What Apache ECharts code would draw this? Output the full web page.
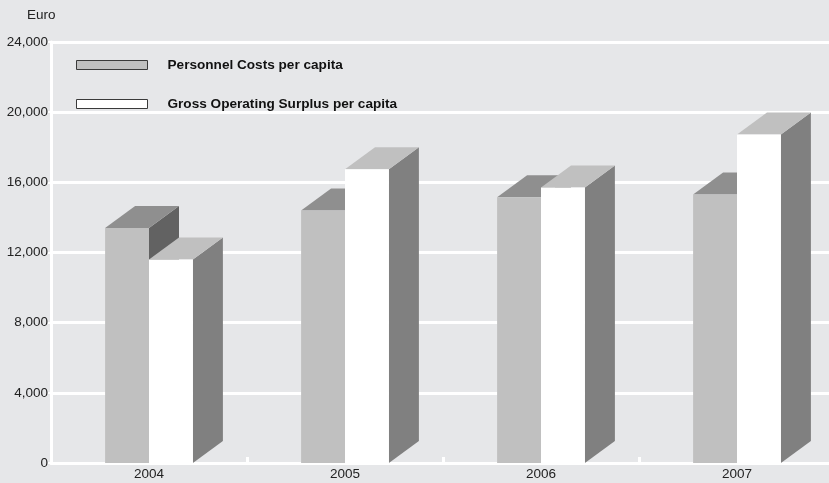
<!DOCTYPE html>
<html>
<head>
<meta charset="utf-8">
<script src="https://cdn.jsdelivr.net/npm/echarts@6/dist/echarts.min.js"></script>
<style>
  html, body { margin: 0; padding: 0; background: #e6e7e9; overflow: hidden; }
  #chart { width: 838px; height: 483px; }
</style>
</head>
<body>
<div id="chart"></div>
<script>
// Years on the x axis
const years = ['2004', '2005', '2006', '2007'];
// Euro per capita
const personnelCosts = [13400, 14400, 15150, 15300];
const grossOperatingSurplus = [11600, 16750, 15700, 18730];
// Y axis scale
const yMin = 0;
const yMax = 24000;
const yStep = 4000;

const seriesNames = ['Personnel Costs per capita', 'Gross Operating Surplus per capita'];
const FONT = 'Liberation Sans, Arial, Helvetica, sans-serif';

// 3D box: front face, top face, right side face
const DEPTH_X = 30;
const DEPTH_Y = -22;

function makeBoxRenderer(offsetSign, colors) {
  return function (params, api) {
    const catIdx = api.value(0);
    const val = api.value(1);
    const top = api.coord([catIdx, val]);
    const base = api.coord([catIdx, 0]);
    const catW = api.size([1, 0])[0];
    const w = catW * 0.224;
    const x0 = offsetSign < 0 ? top[0] - w : top[0];
    const x1 = x0 + w;
    const yT = top[1];
    const yB = base[1];
    return {
      type: 'group',
      children: [
        {
          type: 'polygon',
          shape: { points: [[x1, yT], [x1 + DEPTH_X, yT + DEPTH_Y], [x1 + DEPTH_X, yB + DEPTH_Y], [x1, yB]] },
          style: { fill: colors.side }
        },
        {
          type: 'polygon',
          shape: { points: [[x0, yT], [x1, yT], [x1 + DEPTH_X, yT + DEPTH_Y], [x0 + DEPTH_X, yT + DEPTH_Y]] },
          style: { fill: colors.top }
        },
        {
          type: 'rect',
          shape: { x: x0, y: yT, width: w, height: yB - yT },
          style: { fill: colors.front }
        }
      ]
    };
  };
}

const chart = echarts.init(document.getElementById('chart'), null, { renderer: 'canvas' });

chart.setOption({
  backgroundColor: '#e6e7e9',
  animation: false,
  title: {
    text: 'Euro',
    left: 22,
    top: 3,
    textStyle: { fontFamily: FONT, fontSize: 13.5, fontWeight: 'normal', color: '#222' }
  },
  legend: {
    orient: 'vertical',
    left: 71,
    top: 53,
    itemWidth: 71,
    itemHeight: 9,
    itemGap: 25,
    icon: 'rect',
    data: [
      { name: seriesNames[0], itemStyle: { color: '#c0c0c0', borderColor: '#3a3a3a', borderWidth: 1 } },
      { name: seriesNames[1], itemStyle: { color: '#ffffff', borderColor: '#3a3a3a', borderWidth: 1 } }
    ],
    textStyle: {
      fontFamily: FONT,
      fontSize: 13.6,
      fontWeight: 'bold',
      color: '#111',
      padding: [0, 0, 0, 15]
    }
  },
  grid: { left: 51, top: 42, right: 3, bottom: 20, containLabel: false },
  xAxis: {
    type: 'category',
    data: years,
    axisLine: { show: true, lineStyle: { color: '#ffffff', width: 3 } },
    axisTick: { show: true, inside: true, length: 6, lineStyle: { color: '#ffffff', width: 3 } },
    axisLabel: { margin: 4, fontFamily: FONT, fontSize: 13.5, color: '#222' },
    splitLine: { show: false }
  },
  yAxis: {
    type: 'value',
    min: yMin,
    max: yMax,
    interval: yStep,
    axisLine: { show: true, lineStyle: { color: '#ffffff', width: 3 } },
    axisTick: { show: true, length: 3, lineStyle: { color: '#ffffff', width: 2 } },
    axisLabel: {
      margin: 3,
      fontFamily: FONT,
      fontSize: 13.5,
      color: '#222',
      formatter: v => v.toLocaleString('en-US')
    },
    splitLine: { show: true, lineStyle: { color: '#ffffff', width: 3 } }
  },
  series: [
    {
      name: seriesNames[0],
      type: 'custom',
      itemStyle: { color: '#c0c0c0' },
      renderItem: makeBoxRenderer(-1, { front: '#c0c0c0', top: '#8f8f8f', side: '#626262' }),
      encode: { x: 0, y: 1 },
      data: personnelCosts.map((v, i) => [i, v]),
      z: 2
    },
    {
      name: seriesNames[1],
      type: 'custom',
      itemStyle: { color: '#ffffff' },
      renderItem: makeBoxRenderer(1, { front: '#ffffff', top: '#c0c0c0', side: '#808080' }),
      encode: { x: 0, y: 1 },
      data: grossOperatingSurplus.map((v, i) => [i, v]),
      z: 3
    }
  ]
});
</script>
</body>
</html>
